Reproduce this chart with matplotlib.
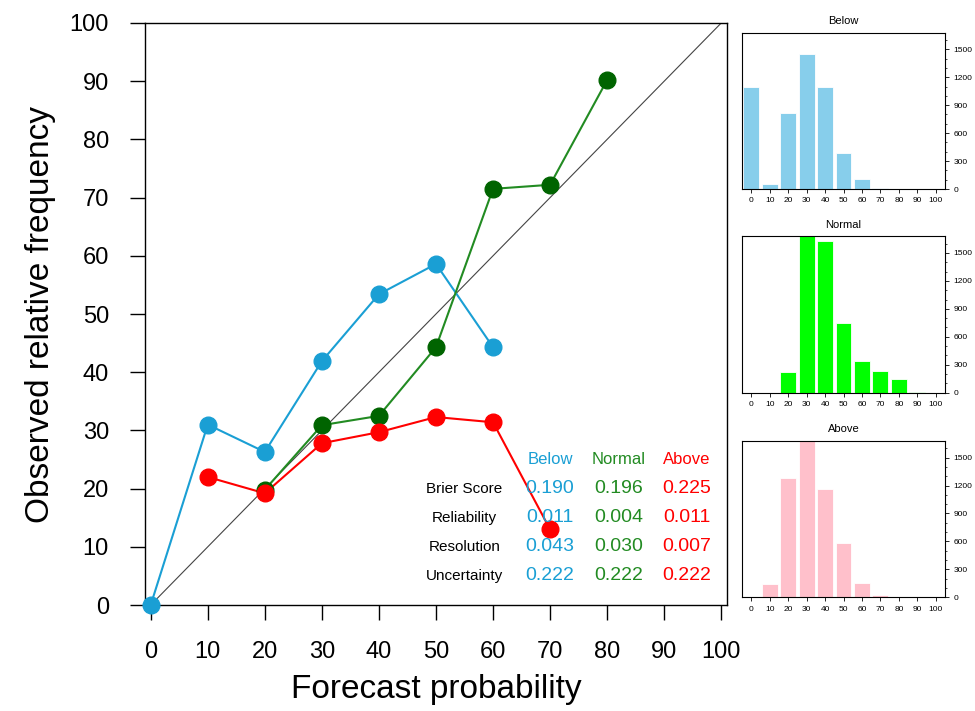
import matplotlib
matplotlib.use("Agg")
import matplotlib.pyplot as plt
from matplotlib.ticker import MultipleLocator

plt.rcParams['font.family'] = ['Liberation Sans', 'DejaVu Sans']

# valores do diagrama de confiabilidade
prob = [0, 10, 20, 30, 40, 50, 60, 70, 80, 90, 100]
below_x = [0, 10, 20, 30, 40, 50, 60]
below_y = [0, 31.0, 26.3, 41.9, 53.4, 58.6, 44.3]
normal_x = [20, 30, 40, 50, 60, 70, 80]
normal_y = [19.8, 30.9, 32.5, 44.3, 71.5, 72.2, 90.2]
above_x = [10, 20, 30, 40, 50, 60, 70]
above_y = [22.0, 19.2, 27.8, 29.7, 32.3, 31.4, 13.0]

# contagens dos histogramas
below_counts = [1100, 57, 815, 1445, 1100, 390, 104, 10, 0, 0, 0]
normal_counts = [0, 0, 218, 1750, 1625, 743, 336, 229, 143, 5, 0]
above_counts = [0, 142, 1280, 1750, 1159, 583, 156, 25, 0, 0, 0]

# tabela de escores
score_names = ["Brier Score", "Reliability", "Resolution", "Uncertainty"]
below_scores = ["0.190", "0.011", "0.043", "0.222"]
normal_scores = ["0.196", "0.004", "0.030", "0.222"]
above_scores = ["0.225", "0.011", "0.007", "0.222"]

c_below = '#1a9fd4'
c_normal_line = '#228B22'
c_normal = '#006400'
c_above = '#ff0000'

fig = plt.figure(figsize=(9.75, 7.11), dpi=100)
ax = fig.add_axes([0.1487, 0.149, 0.5969, 0.8187])

ax.plot([0, 100], [0, 100], color='#444444', lw=0.8, zorder=1)
ax.plot(below_x, below_y, color=c_below, lw=1.5, zorder=2)
ax.plot(below_x, below_y, 'o', color=c_below, ms=12, zorder=3, clip_on=False)
ax.plot(normal_x, normal_y, color=c_normal_line, lw=1.5, zorder=2)
ax.plot(normal_x, normal_y, 'o', color=c_normal, ms=12, zorder=3, clip_on=False)
ax.plot(above_x, above_y, color=c_above, lw=1.5, zorder=2)
ax.plot(above_x, above_y, 'o', color=c_above, ms=12, zorder=3, clip_on=False)

ax.set_xlim(-1, 101)
ax.set_ylim(0, 100)
ax.set_xticks(prob)
ax.set_yticks(prob)
ax.tick_params(direction='out', length=11, width=1, labelsize=17, pad=15)
for s in ax.spines.values():
    s.set_linewidth(1)
ax.set_xlabel("Forecast probability", fontsize=24, labelpad=8)
ax.set_ylabel("Observed relative frequency", fontsize=24, labelpad=10)

# tabela
ax.text(70, 25, "Below", color=c_below, fontsize=12, ha='center', va='center')
ax.text(82, 25, "Normal", color=c_normal_line, fontsize=12, ha='center', va='center')
ax.text(94, 25, "Above", color=c_above, fontsize=12, ha='center', va='center')
for i, name in enumerate(score_names):
    yy = 20 - 5 * i
    ax.text(55, yy, name, fontsize=11, ha='center', va='center')
    ax.text(70, yy, below_scores[i], color=c_below, fontsize=14, ha='center', va='center')
    ax.text(82, yy, normal_scores[i], color=c_normal_line, fontsize=14, ha='center', va='center')
    ax.text(94, yy, above_scores[i], color=c_above, fontsize=14, ha='center', va='center')

# histogramas
hist_info = [
    ("Below", below_counts, '#87CEEB', 189),
    ("Normal", normal_counts, '#00FF00', 392.7),
    ("Above", above_counts, '#FFC0CB', 597.3),
]
for title, counts, cor, bottom_px in hist_info:
    h = 156.5
    hax = fig.add_axes([742 / 975, 1 - bottom_px / 711, 203 / 975, h / 711])
    hax.bar(prob, counts, width=8.6, color=cor, edgecolor='white', linewidth=0.6)
    hax.set_xlim(-5, 105)
    hax.set_ylim(0, 1680)
    hax.set_xticks(prob)
    hax.set_yticks([0, 300, 600, 900, 1200, 1500])
    hax.yaxis.set_minor_locator(MultipleLocator(100))
    hax.yaxis.tick_right()
    hax.tick_params(direction='out', length=3, width=0.6, labelsize=6, pad=3)
    hax.tick_params(which='minor', direction='out', length=1.5, width=0.5)
    for s in hax.spines.values():
        s.set_linewidth(0.8)
    hax.set_title(title, fontsize=8, pad=6)

fig.savefig("out.png", dpi=100)
